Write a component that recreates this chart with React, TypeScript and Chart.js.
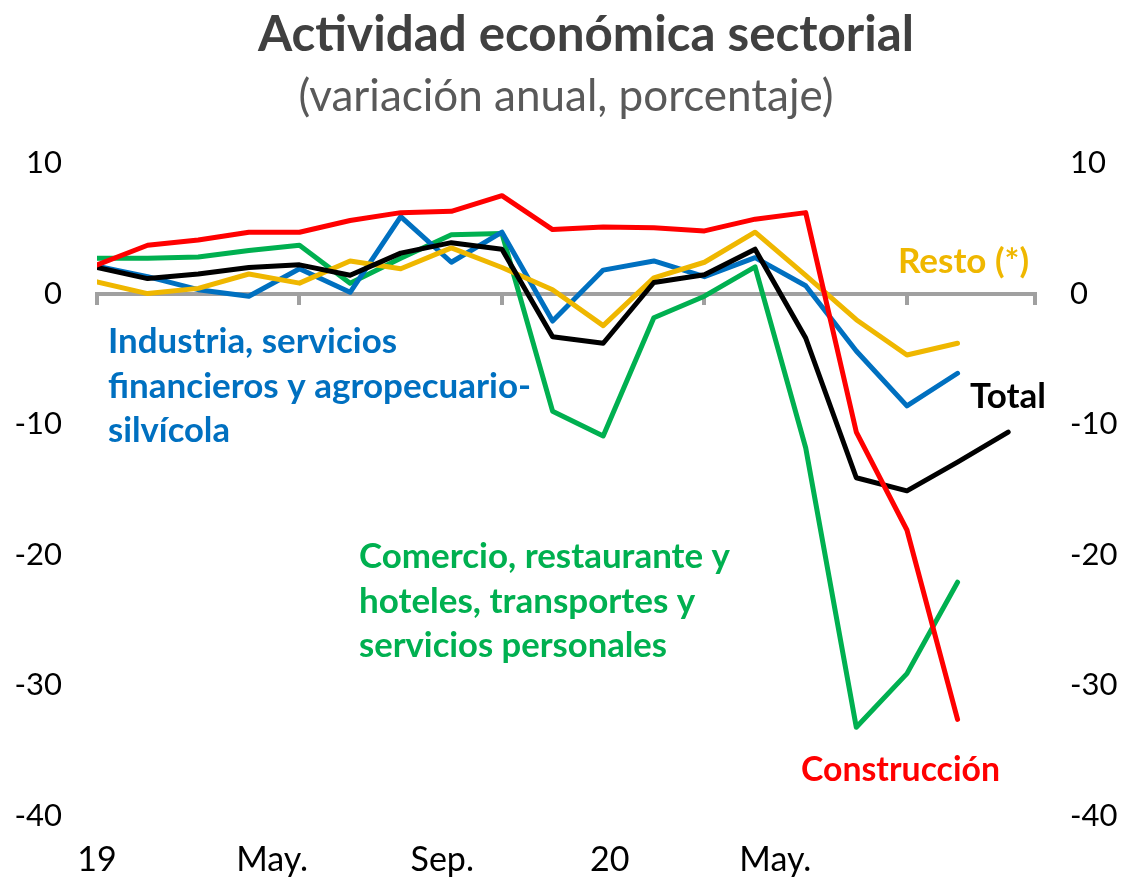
import React, { useEffect, useRef } from "react";
import { Chart, registerables } from "chart.js";

Chart.register(...registerables);

// Months: Jan 2019 .. Jul 2020
const months = [
  "Ene 2019", "Feb 2019", "Mar 2019", "Abr 2019", "May 2019", "Jun 2019",
  "Jul 2019", "Ago 2019", "Sep 2019", "Oct 2019", "Nov 2019", "Dic 2019",
  "Ene 2020", "Feb 2020", "Mar 2020", "Abr 2020", "May 2020", "Jun 2020", "Jul 2020",
];

const xTickLabels = ["19", "May.", "Sep.", "20", "May."];
const xTickLabelPos = [0, 3.46, 6.82, 10.13, 13.4];
const yTicks = [10, 0, -10, -20, -30, -40];

const industria = [2.1, 1.3, 0.3, -0.2, 1.9, 0.1, 5.9, 2.4, 4.7, -2.1, 1.8, 2.5, 1.3, 2.75, 0.6, -4.4, -8.6, -6.1];
const comercio = [2.7, 2.7, 2.8, 3.3, 3.7, 0.8, 2.7, 4.5, 4.6, -9.0, -10.9, -1.85, -0.2, 2.05, -11.8, -33.2, -29.1, -22.1];
const construccion = [2.2, 3.7, 4.1, 4.7, 4.7, 5.6, 6.2, 6.3, 7.5, 4.9, 5.1, 5.05, 4.8, 5.7, 6.2, -10.6, -18.1, -32.6];
const resto = [0.9, 0.0, 0.4, 1.5, 0.8, 2.5, 1.9, 3.5, 2.0, 0.3, -2.45, 1.2, 2.4, 4.7, 1.4, -2.0, -4.7, -3.8];
const total = [2.0, 1.15, 1.5, 2.0, 2.2, 1.4, 3.1, 3.9, 3.4, -3.3, -3.8, 0.85, 1.45, 3.4, -3.4, -14.1, -15.1, -12.9, -10.6];

const BLUE = "#0070C0";
const GREEN = "#00B050";
const RED = "#FF0000";
const GOLD = "#EFB700";
const BLACK = "#000000";
const GRAY = "#A0A0A0";
const FONT = "Lato";

type Note = { lines: string[]; color: string; x: number; y: number; widths: number[] };

const notes: Note[] = [
  { lines: ["Industria, servicios", "financieros y agropecuario-", "silvícola"], color: BLUE, x: 108, y: 353, widths: [289, 432, 122] },
  { lines: ["Comercio, restaurante y", "hoteles, transportes y", "servicios personales"], color: GREEN, x: 359, y: 568, widths: [371, 337, 308] },
  { lines: ["Total"], color: BLACK, x: 970, y: 408, widths: [78] },
  { lines: ["Resto (*)"], color: GOLD, x: 898, y: 273, widths: [136] },
  { lines: ["Construcción"], color: RED, x: 801, y: 781, widths: [199] },
];

const toPoints = (arr: number[]) => arr.map((v, i) => ({ x: i, y: v }));

const textPlugin = {
  id: "texts",
  afterDraw(chart: any) {
    const ctx = chart.ctx as CanvasRenderingContext2D;
    ctx.save();
    ctx.textBaseline = "alphabetic";
    ctx.textAlign = "center";
    ctx.fillStyle = "#404040";
    ctx.font = `bold 50px ${FONT}`;
    ctx.fillText("Actividad económica sectorial", 586, 51, 656);
    ctx.fillStyle = "#595959";
    ctx.font = `44px ${FONT}`;
    ctx.fillText("(variación anual, porcentaje)", 566, 111, 552);
    ctx.textAlign = "left";
    ctx.font = `bold 35px ${FONT}`;
    for (const n of notes) {
      ctx.fillStyle = n.color;
      n.lines.forEach((l, i) => {
        ctx.fillText(l, n.x, n.y + i * 44.5, n.widths[i]);
      });
    }
    ctx.restore();
  },
};

export default function App() {
  const ref = useRef<HTMLCanvasElement>(null);
  useEffect(() => {
    if (!ref.current) return;
    const tickFont = { family: FONT, size: 31 };
    const ds = (label: string, data: number[], color: string, order: number) => ({
      label,
      data: toPoints(data),
      borderColor: color,
      backgroundColor: color,
      borderWidth: 5,
      pointRadius: 0,
      borderCapStyle: "round" as const,
      borderJoinStyle: "round" as const,
      tension: 0,
      fill: false,
      order,
    });
    const chart = new Chart(ref.current, {
      type: "line",
      data: {
        labels: months,
        datasets: [
          ds("Construcción", construccion, RED, 0),
          ds("Total", total, BLACK, 1),
          ds("Resto (*)", resto, GOLD, 2),
          ds("Industria, servicios financieros y agropecuario-silvícola", industria, BLUE, 3),
          ds("Comercio, restaurante y hoteles, transportes y servicios personales", comercio, GREEN, 4),
        ],
      },
      options: {
        responsive: false,
        animation: false,
        layout: { padding: { top: 163, left: 0, right: 0, bottom: 0 } },
        plugins: { legend: { display: false }, tooltip: { enabled: false }, title: { display: false } },
        scales: {
          x: {
            type: "linear",
            min: 0,
            max: 18.53,
            position: { y: 0 } as any,
            ticks: { display: false, stepSize: 4 },
            grid: { drawOnChartArea: false, drawTicks: true, tickLength: 9, color: GRAY, lineWidth: 4 },
            border: { color: GRAY, width: 4 },
          },
          xl: {
            type: "linear",
            axis: "x",
            position: "bottom",
            min: 0,
            max: 18.53,
            grid: { display: false, drawTicks: false },
            border: { display: false },
            afterBuildTicks: (s: any) => {
              s.ticks = xTickLabelPos.map((v) => ({ value: v }));
            },
            afterFit: (s: any) => {
              s.height = 63;
            },
            ticks: {
              autoSkip: false,
              maxRotation: 0,
              minRotation: 0,
              padding: 24,
              color: "#000",
              font: { family: FONT, size: 34 },
              callback: (_v: any, i: number) => xTickLabels[i],
            },
          } as any,
          y: {
            min: -40,
            max: 10,
            position: "left",
            afterBuildTicks: (s: any) => {
              s.ticks = yTicks.map((v) => ({ value: v }));
            },
            ticks: { padding: 35, color: "#000", font: tickFont },
            grid: { display: false, drawTicks: false },
            border: { display: false },
            afterFit: (s: any) => {
              s.width = 97;
            },
          },
          y2: {
            min: -40,
            max: 10,
            position: "right",
            afterBuildTicks: (s: any) => {
              s.ticks = yTicks.map((v) => ({ value: v }));
            },
            ticks: { padding: 35, color: "#000", font: tickFont },
            grid: { display: false, drawTicks: false },
            border: { display: false },
            afterFit: (s: any) => {
              s.width = 93;
            },
          },
        },
      },
      plugins: [textPlugin],
    });
    return () => chart.destroy();
  }, []);

  return (
    <div style={{ position: "absolute", left: 0, top: 0, width: 1128, height: 879, background: "#fff" }}>
      <canvas ref={ref} width={1128} height={879} style={{ display: "block", width: 1128, height: 879 }} />
    </div>
  );
}
